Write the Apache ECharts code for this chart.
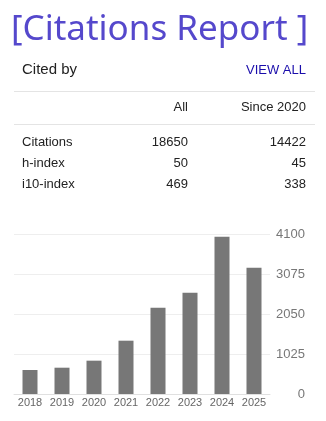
<!DOCTYPE html>
<html>
<head>
<meta charset="utf-8">
<script src="https://cdn.jsdelivr.net/npm/echarts@6/dist/echarts.min.js"></script>
<style>
html,body{margin:0;padding:0;background:#fff;}
#c{width:326px;height:421px;}
</style>
</head>
<body>
<div id="c"></div>
<script>
const years = ['2018','2019','2020','2021','2022','2023','2024','2025'];
const citationsPerYear = [615, 674, 854, 1366, 2212, 2597, 4032, 3238];
const yTicks = [0, 1025, 2050, 3075, 4100];
const tableHeader = ['All', 'Since 2020'];
const rowLabels = ['Citations', 'h-index', 'i10-index'];
const allValues = ['18650', '50', '469'];
const sinceValues = ['14422', '45', '338'];

const chart = echarts.init(document.getElementById('c'), null, {renderer: 'canvas'});
const font = '"Liberation Sans", Arial, sans-serif';
const graphics = [
  {type:'text', left:11, top:13, style:{text:'[Citations Report ]', font:'35px "Noto Sans", sans-serif', fill:'#5548cc'}},
  {type:'text', x:22, y:70, style:{text:'Cited by', font:'15px ' + font, fill:'#222', verticalAlign:'middle'}},
  {type:'text', x:306, y:70, style:{text:'VIEW ALL', font:'13px ' + font, fill:'#1a0dab', align:'right', verticalAlign:'middle'}},
  {type:'line', shape:{x1:14, y1:91.5, x2:315, y2:91.5}, style:{stroke:'#e4e4e4', lineWidth:1}},
  {type:'text', x:188, y:107, style:{text:tableHeader[0], font:'13px ' + font, fill:'#222', align:'right', verticalAlign:'middle'}},
  {type:'text', x:306, y:107, style:{text:tableHeader[1], font:'13px ' + font, fill:'#222', align:'right', verticalAlign:'middle'}},
  {type:'line', shape:{x1:14, y1:124.5, x2:315, y2:124.5}, style:{stroke:'#e4e4e4', lineWidth:1}}
];
const rowY = [142, 163, 184];
rowLabels.forEach((lab, i) => {
  graphics.push({type:'text', x:22, y:rowY[i], style:{text:lab, font:'13px ' + font, fill:'#222', verticalAlign:'middle'}});
  graphics.push({type:'text', x:188, y:rowY[i], style:{text:allValues[i], font:'13px ' + font, fill:'#222', align:'right', verticalAlign:'middle'}});
  graphics.push({type:'text', x:306, y:rowY[i], style:{text:sinceValues[i], font:'13px ' + font, fill:'#222', align:'right', verticalAlign:'middle'}});
});

chart.setOption({
  animation:false,
  backgroundColor:'#fff',
  graphic: graphics,
  grid:{left:14, right:56, top:234, bottom:27},
  xAxis:{
    type:'category', data:years,
    axisLine:{show:true, lineStyle:{color:'#e0e0e0'}},
    axisTick:{show:false},
    axisLabel:{color:'#666', fontSize:11, fontFamily:font, margin:3}
  },
  yAxis:{
    type:'value', position:'right', min:yTicks[0], max:yTicks[yTicks.length-1], interval:yTicks[1]-yTicks[0],
    axisLine:{show:false}, axisTick:{show:false},
    splitLine:{lineStyle:{color:'#eeeeee'}},
    axisLabel:{color:'#777', fontSize:13, fontFamily:font, align:'right', margin:35, formatter: v => String(v)}
  },
  series:[{type:'bar', data:citationsPerYear, barWidth:15, itemStyle:{color:'#777777'}}]
});
</script>
</body>
</html>
